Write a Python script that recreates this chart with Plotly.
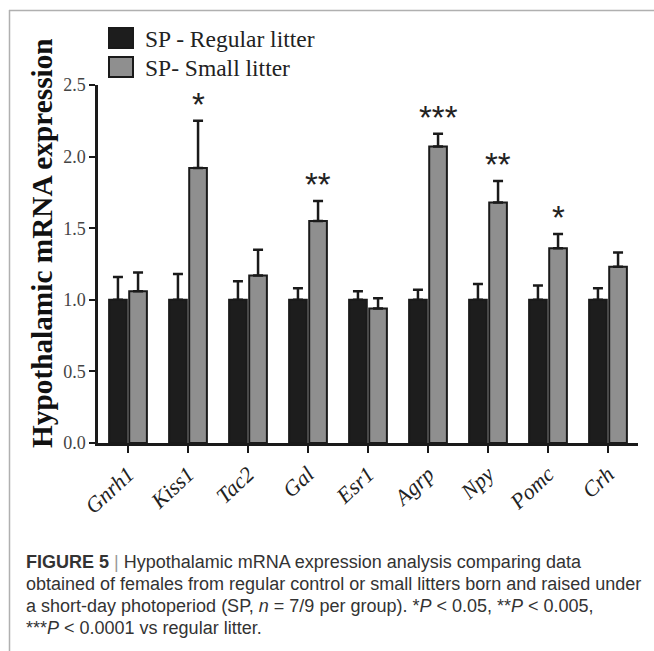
import plotly.graph_objects as go

# ---- data ----
genes = ["Gnrh1", "Kiss1", "Tac2", "Gal", "Esr1", "Agrp", "Npy", "Pomc", "Crh"]
series_names = ["SP - Regular litter", "SP- Small litter"]
regular_mean = [1.00, 1.00, 1.00, 1.00, 1.00, 1.00, 1.00, 1.00, 1.00]
regular_sem = [0.16, 0.18, 0.13, 0.08, 0.06, 0.07, 0.11, 0.10, 0.08]
small_mean = [1.06, 1.92, 1.17, 1.55, 0.94, 2.07, 1.68, 1.36, 1.23]
small_sem = [0.13, 0.33, 0.18, 0.14, 0.07, 0.09, 0.15, 0.10, 0.10]
signif = ["", "*", "", "**", "", "***", "**", "*", ""]
y_ticks = [0.0, 0.5, 1.0, 1.5, 2.0, 2.5]
y_title = "Hypothalamic mRNA expression"
caption_lines = [
    "<b>FIGURE 5</b> <span style='color:#999'>|</span> Hypothalamic mRNA expression analysis comparing data",
    "obtained of females from regular control or small litters born and raised under",
    "a short-day photoperiod (SP, <i>n</i> = 7/9 per group). *<i>P</i> < 0.05, **<i>P</i> < 0.005,",
    "***<i>P</i> < 0.0001 vs regular litter.",
]

W, H = 654, 651
L, R, T, B = 98, 16, 85, 208
PW, PH = W - L - R, H - T - B


def px(x):
    return (x - L) / PW


def py(y):
    return (H - B - y) / PH


BLACK = "#1d1d1d"
GRAY = "#8f8f8f"
EDGE = "#1a1a1a"
colors = [BLACK, GRAY]

fig = go.Figure()
for name, means, sems, col in [
    (series_names[0], regular_mean, regular_sem, BLACK),
    (series_names[1], small_mean, small_sem, GRAY),
]:
    fig.add_trace(go.Bar(
        x=genes, y=means, name=name,
        marker=dict(color=col, line=dict(color=EDGE, width=2)),
        error_y=dict(type="data", symmetric=False, array=sems,
                     arrayminus=[0] * len(sems), color=EDGE,
                     thickness=2.5, width=5),
        showlegend=False,
    ))

# significance stars
for g, m, s, lab in zip(genes, small_mean, small_sem, signif):
    if lab:
        fig.add_annotation(x=g, y=m + s, xref="x", yref="y", text=lab,
                           showarrow=False, yanchor="bottom", xanchor="center",
                           xshift=10, yshift=-4,
                           font=dict(family="Liberation Sans", size=33, color="#222"))

# manual legend
leg_y = [(28, 48), (57, 77)]
for (y0, y1), name, col in zip(leg_y, series_names, colors):
    fig.add_shape(type="rect", xref="paper", yref="paper",
                  x0=px(109), x1=px(133), y0=py(y1), y1=py(y0),
                  fillcolor=col, line=dict(color=EDGE, width=2))
    fig.add_annotation(xref="paper", yref="paper", x=px(143), y=py((y0 + y1) / 2 + 1),
                       text=name, showarrow=False, xanchor="left", yanchor="middle",
                       font=dict(family="Liberation Serif", size=23.5, color="#222"))

# y-axis title (placed to match the original offset)
fig.add_annotation(xref="paper", yref="paper", x=px(42), y=py(243),
                   text="<b>" + y_title + "</b>", textangle=-90, showarrow=False,
                   xanchor="center", yanchor="middle",
                   font=dict(family="Liberation Serif", size=29.3, color="#111"))

# frame lines
fig.add_shape(type="line", xref="paper", yref="paper", x0=px(9), x1=px(654),
              y0=py(10.5), y1=py(10.5), line=dict(color="#b0b0b0", width=1.5))
fig.add_shape(type="line", xref="paper", yref="paper", x0=px(9.5), x1=px(9.5),
              y0=py(10), y1=py(651), line=dict(color="#b0b0b0", width=1.5))

# caption
for i, line in enumerate(caption_lines):
    fig.add_annotation(xref="paper", yref="paper", x=px(24), y=py(562 + 22 * i),
                       text=line, showarrow=False, xanchor="left", yanchor="middle",
                       font=dict(family="Liberation Sans", size=18, color="#333"))

fig.update_layout(
    width=W, height=H,
    margin=dict(l=L, r=R, t=T, b=B, autoexpand=False),
    paper_bgcolor="white", plot_bgcolor="white",
    barmode="group", bargap=0.33, bargroupgap=0.12,
    showlegend=False,
)
fig.update_xaxes(
    range=[-0.5, 8.5], showline=True, linecolor=EDGE, linewidth=2.5,
    ticks="outside", ticklen=7, tickwidth=2, tickcolor=EDGE,
    tickangle=-43, showgrid=False, zeroline=False, automargin=False,
    tickfont=dict(family="Liberation Serif", size=22, color="#222", style="italic"),
)
fig.update_yaxes(
    range=[0, 2.5], tickvals=y_ticks, tickformat=".1f",
    showline=True, linecolor=EDGE, linewidth=2.5,
    ticks="outside", ticklen=6, tickwidth=2, tickcolor=EDGE,
    showgrid=False, zeroline=False, automargin=False,
    tickfont=dict(family="Liberation Serif", size=18, color="#444"),
)

fig.write_html("out.html", config={"displayModeBar": False},
               post_script="document.body.style.margin='0px';document.body.style.overflow='hidden';")
